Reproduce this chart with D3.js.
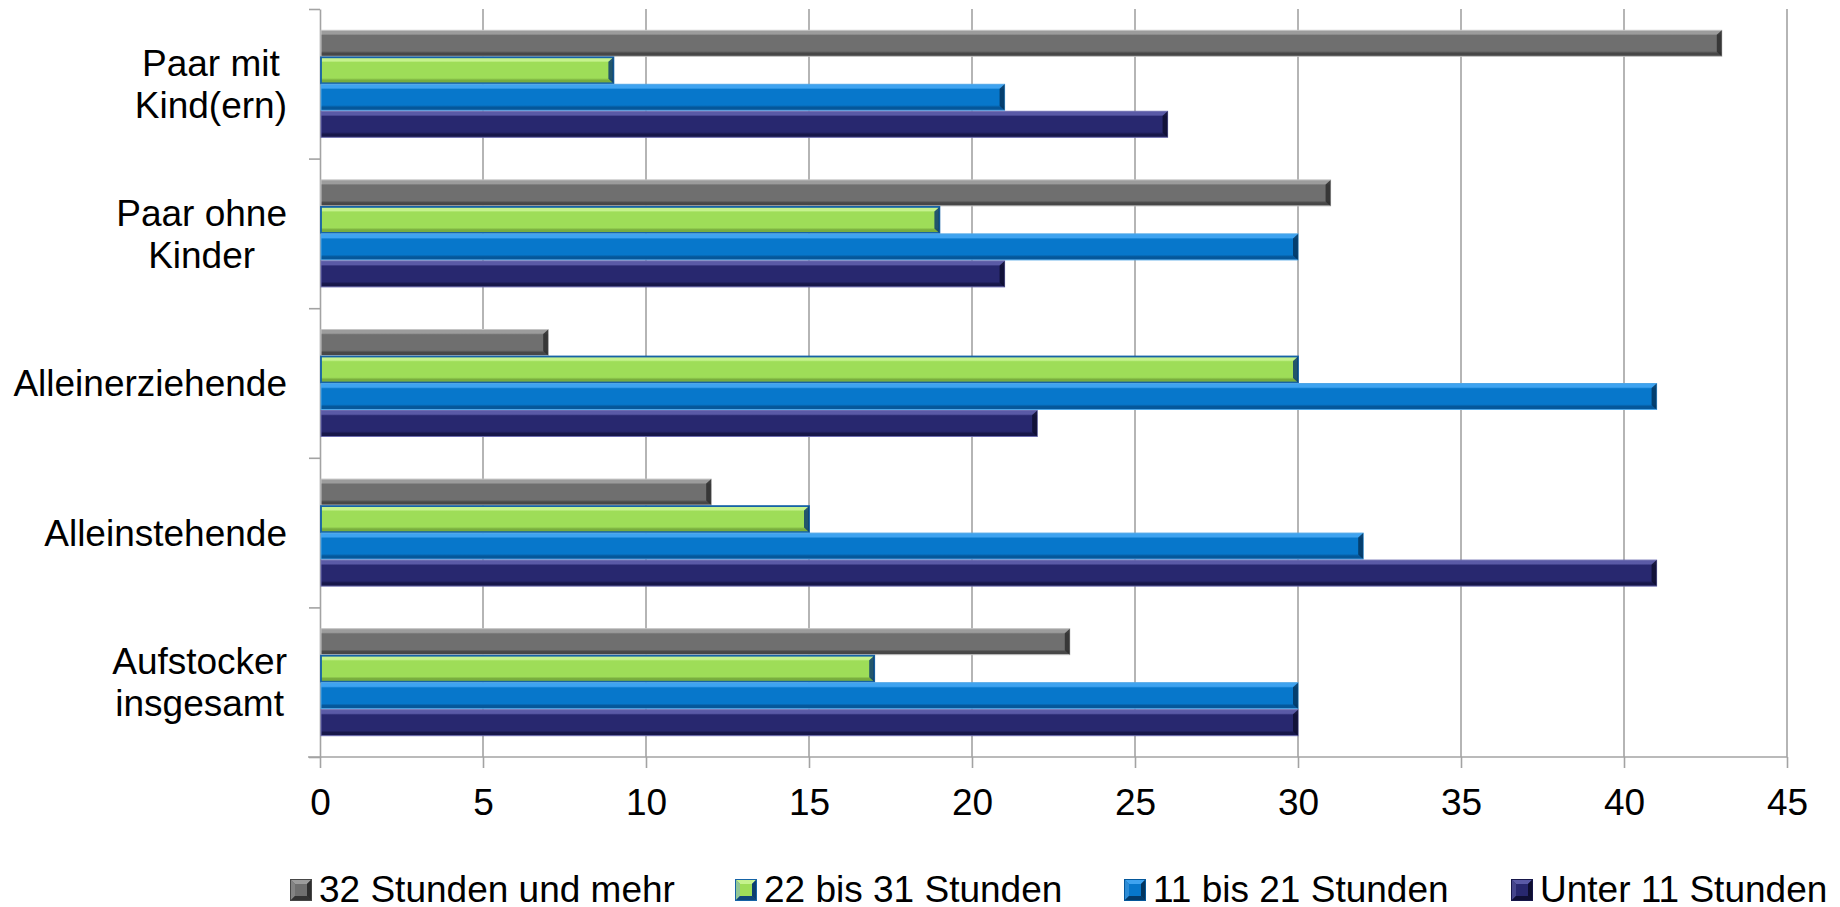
<!DOCTYPE html>
<html>
<head>
<meta charset="utf-8">
<script src="https://cdn.jsdelivr.net/npm/d3@7"></script>
<style>
  html, body { margin: 0; padding: 0; background: #ffffff; }
  svg { display: block; font-family: "Liberation Sans", Arial, sans-serif; }
</style>
</head>
<body>
<svg id="chart" width="1840" height="907"></svg>
<script>
// Household types (top to bottom)
const categories = ["Paar mit Kind(ern)", "Paar ohne Kinder", "Alleinerziehende", "Alleinstehende", "Aufstocker insgesamt"];

// Weekly working hours groups (drawn top to bottom inside each household type)
const seriesNames = ["32 Stunden und mehr", "22 bis 31 Stunden", "11 bis 21 Stunden", "Unter 11 Stunden"];

// Shares in percent, one array per hours group, aligned with categories
const hours32plus = [43, 31, 7, 12, 23];
const hours22to31 = [9, 19, 30, 15, 17];
const hours11to21 = [21, 30, 41, 32, 30];
const hoursUnder11 = [26, 21, 22, 41, 30];

const xTicks = [0, 5, 10, 15, 20, 25, 30, 35, 40, 45];

const seriesValues = [hours32plus, hours22to31, hours11to21, hoursUnder11];

const palette = [
  { base: "#6f6f6f", light: "#9c9c9c", dark: "#474747", stroke: "#c4c4c4", end: "#2e2e2e" },
  { base: "#9edd58", light: "#c6f28e", dark: "#78ad3e", stroke: "#1663a6", end: "#0d3e6e" },
  { base: "#0777cb", light: "#3ea3f0", dark: "#05579a", stroke: "#4fa6e6", end: "#03355f" },
  { base: "#28286f", light: "#5a5aa6", dark: "#17174a", stroke: "#6c6cb0", end: "#0e0e30" }
];

const svg = d3.select("#chart");
const defs = svg.append("defs");

const plot = { left: 320, right: 1787, top: 9, bottom: 757 };

const x = d3.scaleLinear().domain([0, 45]).range([plot.left, plot.right]);
const yGroup = d3.scaleBand().domain(categories).range([plot.top, plot.bottom]).padding(0);
const groupStep = yGroup.bandwidth();
const barBlock = 108;
const yInner = d3.scaleBand().domain(seriesNames)
  .range([(groupStep - barBlock) / 2, (groupStep + barBlock) / 2]).padding(0);

// vertical gradients give the bars their bevelled look
palette.forEach((p, i) => {
  const g = defs.append("linearGradient").attr("id", "grad" + i)
    .attr("x1", 0).attr("y1", 0).attr("x2", 0).attr("y2", 1);
  g.append("stop").attr("offset", "0%").attr("stop-color", p.light);
  g.append("stop").attr("offset", "14%").attr("stop-color", p.light);
  g.append("stop").attr("offset", "20%").attr("stop-color", p.base);
  g.append("stop").attr("offset", "80%").attr("stop-color", p.base);
  g.append("stop").attr("offset", "88%").attr("stop-color", p.dark);
  g.append("stop").attr("offset", "100%").attr("stop-color", p.dark);
});

// grid lines
svg.append("g").attr("class", "grid")
  .selectAll("line").data(xTicks.filter(t => t > 0)).join("line")
  .attr("x1", d => x(d)).attr("x2", d => x(d))
  .attr("y1", plot.top).attr("y2", plot.bottom)
  .attr("stroke", "#a3a3a3").attr("stroke-width", 1.6);

const fontSize = 37;

// x axis
const xAxis = svg.append("g")
  .attr("transform", `translate(0,${plot.bottom})`)
  .call(d3.axisBottom(x).tickValues(xTicks).tickSize(11).tickPadding(21).tickSizeOuter(0));
xAxis.select(".domain").attr("stroke", "#a3a3a3").attr("stroke-width", 1.6)
  .attr("d", `M${plot.left - 12},0H${plot.right}`);
xAxis.selectAll(".tick line").attr("stroke", "#a3a3a3").attr("stroke-width", 1.6);
xAxis.selectAll(".tick text").attr("font-size", fontSize).attr("fill", "#000")
  .attr("font-family", "Liberation Sans, Arial, sans-serif");

// y axis with ticks on the category boundaries
const yEdges = d3.scaleLinear().domain([0, categories.length]).range([plot.top, plot.bottom]);
const yAxis = svg.append("g")
  .attr("transform", `translate(${plot.left},0)`)
  .call(d3.axisLeft(yEdges).ticks(categories.length).tickSize(11).tickFormat("").tickSizeOuter(0));
yAxis.select(".domain").attr("stroke", "#a3a3a3").attr("stroke-width", 1.6);
yAxis.selectAll(".tick line").attr("stroke", "#a3a3a3").attr("stroke-width", 1.6);

// bars
const rows = [];
categories.forEach((c, ci) => {
  seriesNames.forEach((s, si) => rows.push({ cat: c, series: s, si, value: seriesValues[si][ci] }));
});

const bars = svg.append("g").attr("class", "bars")
  .selectAll("g").data(rows).join("g")
  .attr("transform", d => `translate(0,${yGroup(d.cat) + yInner(d.series)})`);

const bh = yInner.bandwidth();
bars.append("rect")
  .attr("x", x(0) + 1)
  .attr("y", 0.5)
  .attr("width", d => x(d.value) - x(0) - 1)
  .attr("height", bh - 1)
  .attr("fill", d => `url(#grad${d.si})`)
  .attr("stroke", d => palette[d.si].stroke)
  .attr("stroke-width", d => d.si === 1 ? 1.8 : 1);

// darker bevel at the bar end
bars.append("path")
  .attr("d", d => {
    const x1 = x(d.value), e = 5;
    return `M${x1 - e},${e}L${x1},0.5L${x1},${bh - 0.5}L${x1 - e},${bh - e}Z`;
  })
  .attr("fill", d => palette[d.si].end)
  .attr("opacity", 0.85);

// category labels, wrapped and right aligned as a block
const labelG = svg.append("g").attr("class", "cat-labels");
const lineGap = 42, labelRight = 287, maxWidth = 280;
const measurer = svg.append("text").attr("font-size", fontSize).attr("visibility", "hidden");
const widthOf = s => { measurer.text(s); return measurer.node().getComputedTextLength(); };

categories.forEach(c => {
  const words = c.split(" ");
  const lines = [];
  let cur = "";
  words.forEach(w => {
    const test = cur ? cur + " " + w : w;
    if (cur && widthOf(test) > maxWidth) { lines.push(cur); cur = w; }
    else cur = test;
  });
  lines.push(cur);
  const blockW = d3.max(lines, widthOf);
  const cx = labelRight - blockW / 2;
  const cy = yGroup(c) + groupStep / 2;
  const firstBase = cy - (lines.length - 1) * lineGap / 2 + fontSize * 0.358;
  labelG.selectAll(null).data(lines).join("text")
    .attr("x", cx)
    .attr("y", (d, i) => firstBase + i * lineGap)
    .attr("text-anchor", "middle")
    .attr("font-size", fontSize)
    .attr("fill", "#000")
    .text(d => d);
});
measurer.remove();

// legend
const legend = svg.append("g").attr("class", "legend");
const legendStarts = [290, 735, 1124, 1511];
const sw = 22, legendY = 879;
seriesNames.forEach((s, i) => {
  const p = palette[i];
  const g = legend.append("g").attr("transform", `translate(${legendStarts[i]},${legendY})`);
  g.append("rect").attr("width", sw).attr("height", sw).attr("fill", i === 1 ? p.stroke : p.dark);
  g.append("path").attr("d", `M1,1H${sw - 1}L${sw - 5},5H5Z`).attr("fill", p.light);
  g.append("path").attr("d", `M1,1L5,5V${sw - 5}L1,${sw - 1}Z`).attr("fill", p.light).attr("opacity", 0.7);
  g.append("path").attr("d", `M${sw - 1},1L${sw - 5},5V${sw - 5}L${sw - 1},${sw - 1}Z`).attr("fill", p.end);
  g.append("path").attr("d", `M1,${sw - 1}L5,${sw - 5}H${sw - 5}L${sw - 1},${sw - 1}Z`).attr("fill", p.end).attr("opacity", 0.8);
  g.append("rect").attr("x", 5).attr("y", 5).attr("width", sw - 10).attr("height", sw - 10).attr("fill", p.base);
  g.append("text").attr("x", sw + 7).attr("y", 23)
    .attr("font-size", fontSize).attr("fill", "#000").text(s);
});
</script>
</body>
</html>
